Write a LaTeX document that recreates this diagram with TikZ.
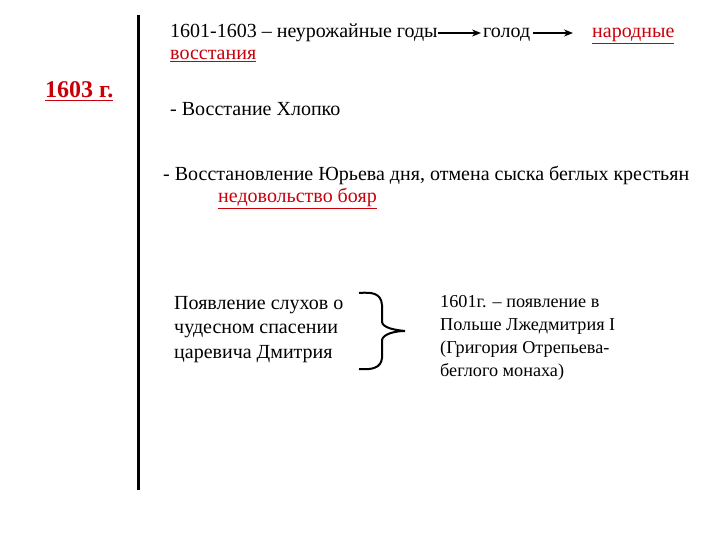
\documentclass[tikz,border=0pt]{standalone}
\usepackage{fontspec}
\setmainfont{Liberation Serif}
\usetikzlibrary{arrows.meta}
\definecolor{redtxt}{RGB}{200,0,10}
\tikzset{
  txt/.style={anchor=base west, inner sep=0pt, font=\fontsize{20}{24}\selectfont},
  smalltxt/.style={anchor=base west, inner sep=0pt, align=left, font=\fontsize{20}{24.5}\selectfont},
  tinytxt/.style={anchor=base west, inner sep=0pt, align=left, font=\fontsize{18.2}{23}\selectfont},
  red/.style={text=redtxt},
  arr/.style={line width=1.6pt, -{Stealth[length=9pt,width=7pt]}},
}
\begin{document}
\begin{tikzpicture}[x=1pt,y=-1pt]
\useasboundingbox (0,0) rectangle (720,540);
\draw[line width=3pt] (138,15) -- (138,490);
\node[txt] (t1) at (170,38) {1601-1603 – неурожайные годы};
\node[txt] (t2) at (483,38) {голод};
\node[txt,red] (t3) at (592,38) {\underline{народные}};
\node[txt,red] (t4) at (170,60) {\underline{восстания}};
\draw[arr] ([yshift=5pt]t1.base east) -- ([yshift=5pt,xshift=-2pt]t2.base west);
\coordinate (a2) at (573,33);
\draw[arr] ([yshift=5pt,xshift=3pt]t2.base east) -- (a2);
\node[txt,red,font=\fontsize{24}{28}\selectfont\bfseries] (y) at (45,98) {\underline{1603 г.}};
\node[txt] (h) at (170,116) {- Восстание Хлопко};
\node[txt] (u) at (163,181) {- Восстановление Юрьева дня, отмена сыска беглых крестьян};
\node[txt,red] (n) at (218,203) {\underline{недовольство бояр}};
\node[smalltxt] (l) at (174,358) {Появление слухов о\\чудесном спасении\\царевича Дмитрия};
\node[tinytxt] (r) at (440,376) {1601г. – появление в\\Польше Лжедмитрия I\\(Григория Отрепьева-\\беглого монаха)};
\draw[line width=2pt] (359,293) .. controls (372,292) and (381,293) .. (382,305)
  -- (382,322) .. controls (383,328) and (395,330) .. (405,331)
  .. controls (395,331) and (383,334) .. (382,340)
  -- (382,358) .. controls (381,368) and (372,370) .. (359,369);
\end{tikzpicture}
\end{document}
